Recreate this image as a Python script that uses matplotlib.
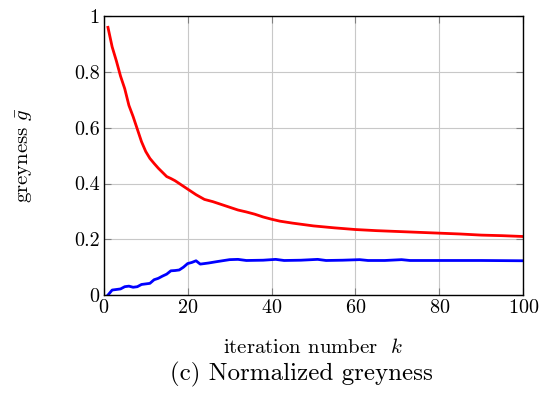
import matplotlib
matplotlib.use("Agg")
import matplotlib.pyplot as plt

plt.rcParams['font.family'] = 'serif'
plt.rcParams['font.serif'] = ['cmr10', 'DejaVu Serif']
plt.rcParams['mathtext.fontset'] = 'cm'
plt.rcParams['axes.formatter.use_mathtext'] = True

# red: greyness of the design, blue: second curve
red_k = [1, 2, 3, 4, 5, 6, 7, 8, 9, 10, 11, 12, 13, 14, 15, 16, 17, 18, 20, 22,
         24, 26, 28, 30, 32, 34, 36, 38, 40, 42, 45, 50, 55, 60, 65, 70, 75, 80,
         85, 90, 95, 100]
red_g = [0.96, 0.89, 0.84, 0.785, 0.74, 0.68, 0.64, 0.595, 0.55, 0.515, 0.49,
         0.472, 0.455, 0.44, 0.425, 0.418, 0.41, 0.40, 0.38, 0.36, 0.343, 0.335,
         0.325, 0.315, 0.305, 0.298, 0.29, 0.28, 0.272, 0.265, 0.258, 0.248,
         0.241, 0.235, 0.231, 0.228, 0.225, 0.222, 0.219, 0.215, 0.213, 0.21]

blue_k = [1, 2, 3, 4, 5, 6, 7, 8, 9, 10, 11, 12, 13, 14, 15, 16, 17, 18, 19, 20,
          21, 22, 23, 25, 27, 30, 32, 34, 38, 41, 43, 47, 51, 53, 57, 61, 63, 67,
          71, 73, 80, 90, 100]
blue_g = [0.0, 0.018, 0.02, 0.022, 0.03, 0.032, 0.028, 0.03, 0.038, 0.04, 0.042,
          0.055, 0.06, 0.068, 0.075, 0.087, 0.088, 0.09, 0.1, 0.113, 0.117, 0.123,
          0.111, 0.115, 0.12, 0.127, 0.128, 0.124, 0.125, 0.128, 0.124, 0.125,
          0.128, 0.124, 0.125, 0.127, 0.124, 0.124, 0.127, 0.124, 0.124, 0.124,
          0.123]

fig = plt.figure(figsize=(5.49, 3.95), dpi=100)
ax = fig.add_axes([0.189, 0.253, 0.764, 0.706])

ax.plot(red_k, red_g, color='red', lw=2)
ax.plot(blue_k, blue_g, color='blue', lw=2)

ax.set_xlim(0, 100)
ax.set_ylim(0, 1)
ax.set_xticks([0, 20, 40, 60, 80, 100])
ax.set_yticks([0, 0.2, 0.4, 0.6, 0.8, 1])
ax.set_yticklabels(['0', '0.2', '0.4', '0.6', '0.8', '1'])
ax.grid(True, color='#c8c8c8', lw=0.8)
ax.tick_params(direction='in', top=True, right=True, labelsize=14.5,
               length=5, color='#808080', pad=3)
for s in ax.spines.values():
    s.set_linewidth(1.0)

ax.set_xlabel(r'iteration number  $k$', fontsize=15)
ax.xaxis.set_label_coords(0.5, -0.155)
ax.set_ylabel(r'greyness $\bar{g}$', fontsize=15)
ax.yaxis.set_label_coords(-0.165, 0.5)
fig.text(0.549, 0.038, '(c) Normalized greyness', ha='center', fontsize=18)

fig.savefig('out.png', dpi=100)
